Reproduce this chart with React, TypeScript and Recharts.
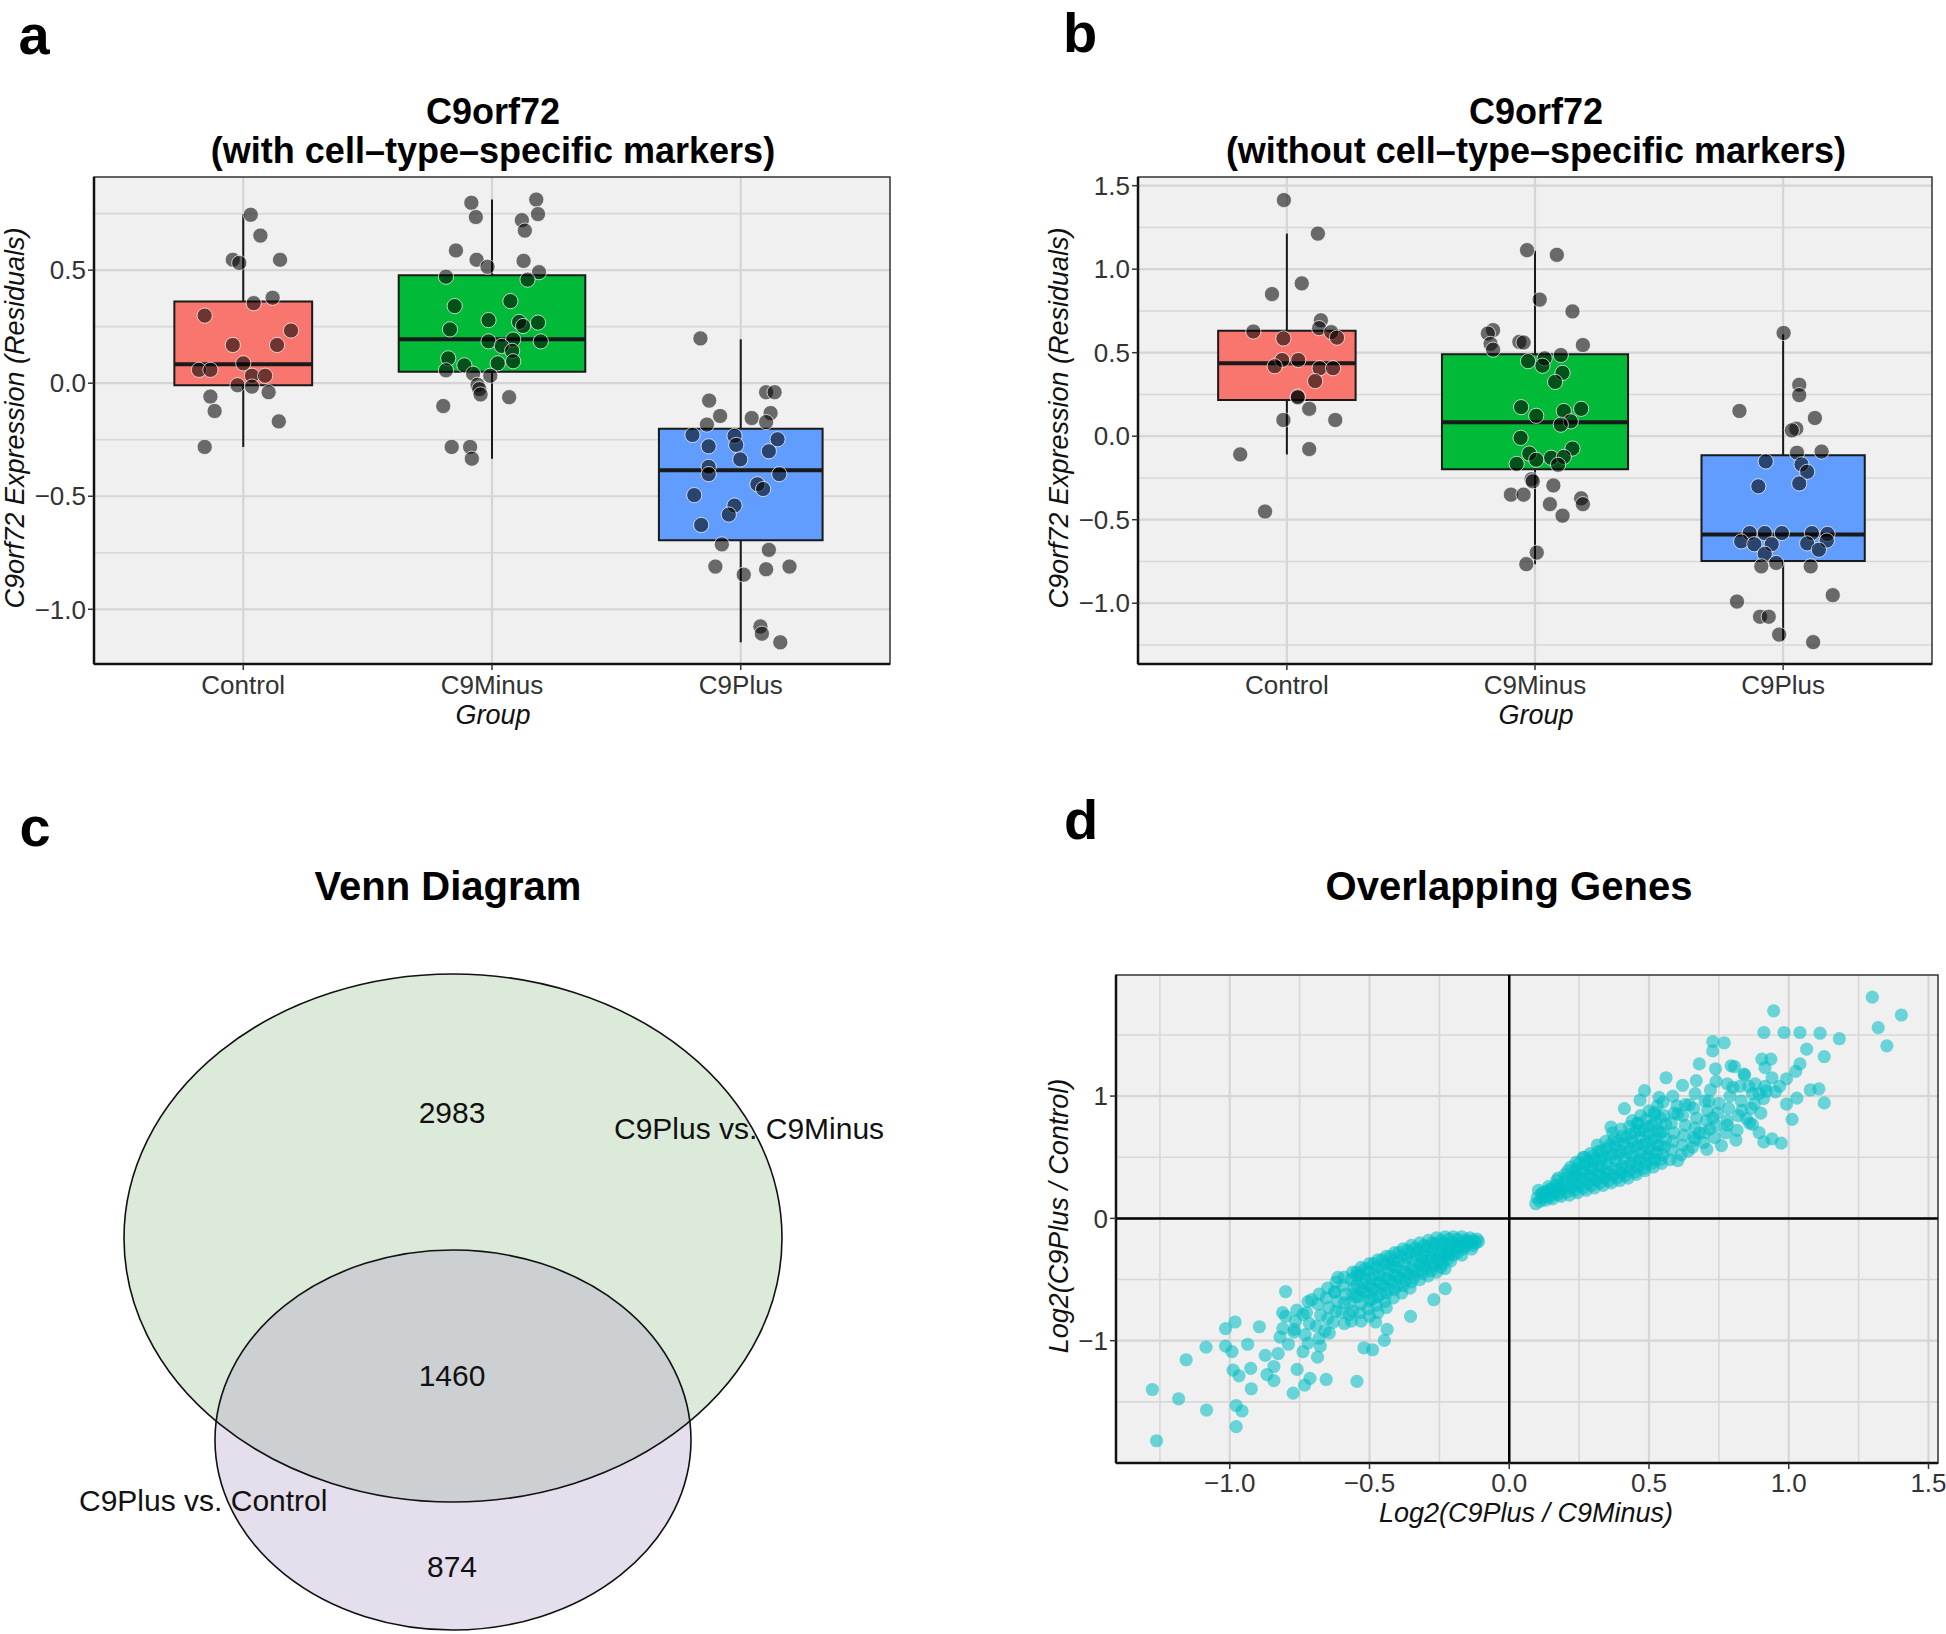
import React from "react";
import {
  ScatterChart,
  Scatter,
  XAxis,
  YAxis,
  CartesianGrid,
  ReferenceArea,
  ReferenceLine,
} from "recharts";

const FONT = "'Liberation Sans', Arial, Helvetica, sans-serif";

// ---- panels a / b : boxplots ----
const groups = ["Control", "C9Minus", "C9Plus"];
const boxColors = ["#F8766D", "#00BA38", "#619CFF"];
// varwidth boxes (relative to category spacing)
const boxWidths = [0.554, 0.75, 0.658];

// with cell-type-specific markers
const withQ1 = [-0.009, 0.051, -0.695];
const withMedian = [0.084, 0.194, -0.385];
const withQ3 = [0.361, 0.477, -0.202];
const withLower = [-0.282, -0.334, -1.146];
const withUpper = [0.748, 0.812, 0.194];

// [jitter, residual]
const withControl: [number, number][] = [
  [0.03, 0.745], [0.069, 0.653], [-0.042, 0.546], [-0.016, 0.532], [0.148, 0.546],
  [0.118, 0.378], [0.042, 0.354], [-0.155, 0.299], [0.192, 0.233], [-0.042, 0.169],
  [0.136, 0.169], [0.0, 0.088], [-0.178, 0.059], [-0.132, 0.059], [0.035, 0.033],
  [0.088, 0.033], [-0.023, -0.009], [0.035, -0.015], [0.102, -0.04], [-0.132, -0.059],
  [-0.115, -0.123], [0.143, -0.169], [-0.155, -0.282],
];
const withC9Minus: [number, number][] = [
  [-0.083, 0.798], [0.178, 0.812], [0.185, 0.748], [-0.065, 0.735], [0.12, 0.721],
  [0.132, 0.675], [-0.145, 0.587], [-0.062, 0.546], [0.127, 0.541], [-0.018, 0.515],
  [0.189, 0.491], [-0.185, 0.471], [0.143, 0.458], [0.074, 0.363], [-0.15, 0.341],
  [-0.014, 0.279], [0.109, 0.271], [0.185, 0.268], [0.125, 0.253], [-0.169, 0.238],
  [-0.014, 0.185], [0.085, 0.193], [0.196, 0.185], [0.039, 0.165], [0.081, 0.143],
  [-0.176, 0.11], [0.085, 0.097], [-0.111, 0.079], [0.023, 0.088], [-0.185, 0.057],
  [-0.076, 0.042], [-0.007, 0.033], [-0.058, -0.007], [-0.051, -0.026], [-0.046, -0.05],
  [0.069, -0.062], [-0.196, -0.101], [-0.162, -0.282], [-0.088, -0.282], [-0.081, -0.334],
];
const withC9Plus: [number, number][] = [
  [-0.162, 0.198], [0.102, -0.04], [0.136, -0.04], [-0.127, -0.077], [0.12, -0.132],
  [-0.083, -0.145], [0.044, -0.154], [0.102, -0.172], [-0.136, -0.183], [-0.194, -0.229],
  [-0.025, -0.233], [0.148, -0.248], [-0.129, -0.279], [-0.018, -0.273], [0.113, -0.301],
  [-0.002, -0.337], [-0.129, -0.37], [-0.129, -0.402], [0.155, -0.402], [0.067, -0.447],
  [0.09, -0.468], [-0.187, -0.495], [-0.025, -0.541], [-0.048, -0.581], [-0.159, -0.627],
  [-0.076, -0.713], [0.113, -0.737], [-0.102, -0.811], [0.102, -0.823], [0.196, -0.811],
  [0.012, -0.847], [0.079, -1.076], [0.085, -1.108], [0.159, -1.146],
];

// without cell-type-specific markers
const withoutQ1 = [0.216, -0.198, -0.747];
const withoutMedian = [0.437, 0.084, -0.588];
const withoutQ3 = [0.632, 0.491, -0.114];
const withoutLower = [-0.109, -0.766, -1.225];
const withoutUpper = [1.213, 1.111, 0.61];

const withoutControl: [number, number][] = [
  [-0.012, 1.414], [0.125, 1.213], [0.06, 0.915], [-0.06, 0.851], [0.137, 0.694],
  [-0.135, 0.627], [0.13, 0.647], [0.179, 0.623], [-0.014, 0.585], [0.202, 0.59],
  [-0.019, 0.456], [0.046, 0.456], [-0.049, 0.419], [0.132, 0.407], [0.186, 0.407],
  [0.114, 0.33], [0.044, 0.238], [0.044, 0.233], [0.09, 0.164], [-0.014, 0.097],
  [0.195, 0.097], [0.09, -0.077], [-0.188, -0.109], [-0.088, -0.451],
];
const withoutC9Minus: [number, number][] = [
  [-0.032, 1.114], [0.088, 1.086], [0.019, 0.818], [0.151, 0.747], [-0.169, 0.635],
  [-0.19, 0.615], [-0.063, 0.565], [-0.046, 0.561], [0.193, 0.546], [-0.179, 0.553],
  [-0.169, 0.518], [0.104, 0.486], [0.039, 0.466], [-0.028, 0.449], [0.03, 0.422],
  [0.111, 0.379], [0.081, 0.325], [-0.056, 0.174], [0.186, 0.164], [0.116, 0.151],
  [0.005, 0.122], [0.144, 0.089], [0.104, 0.069], [-0.058, -0.01], [0.151, -0.074],
  [-0.023, -0.104], [0.065, -0.129], [0.005, -0.141], [0.116, -0.124], [-0.074, -0.166],
  [0.093, -0.171], [-0.014, -0.258], [-0.009, -0.27], [0.074, -0.295], [-0.097, -0.35],
  [-0.046, -0.35], [0.186, -0.372], [0.193, -0.407], [0.06, -0.407], [0.111, -0.476],
  [0.007, -0.697], [-0.035, -0.766],
];
const withoutC9Plus: [number, number][] = [
  [0.002, 0.618], [0.065, 0.308], [0.065, 0.246], [-0.176, 0.151], [0.128, 0.109],
  [0.053, 0.045], [0.035, 0.035], [0.056, -0.099], [0.155, -0.092], [-0.07, -0.151],
  [0.074, -0.169], [0.097, -0.213], [0.065, -0.283], [-0.1, -0.3], [-0.135, -0.58],
  [-0.074, -0.58], [-0.005, -0.58], [0.116, -0.58], [0.179, -0.585], [-0.169, -0.63],
  [-0.116, -0.647], [-0.046, -0.647], [0.176, -0.625], [0.097, -0.642], [0.144, -0.68],
  [-0.074, -0.704], [-0.028, -0.759], [-0.088, -0.779], [0.111, -0.779], [0.2, -0.952],
  [-0.186, -0.99], [-0.093, -1.081], [-0.058, -1.081], [-0.016, -1.188], [0.121, -1.233],
];

// ---- panel c : venn ----
const vennCounts = [2983, 1460, 874];
const vennSetNames = ["C9Plus vs. C9Minus", "C9Plus vs. Control"];

// ---- panel d : log2 fold changes of overlapping genes [C9Plus/C9Minus, C9Plus/Control] ----
const upperCloud: [number, number][] = [
  [1.299, 1.809], [0.946, 1.697], [1.403, 1.663], [1.32, 1.56], [0.911, 1.52], [0.983, 1.52],
  [1.04, 1.52], [1.112, 1.514], [1.181, 1.469], [1.351, 1.411], [0.728, 1.445], [0.769, 1.436],
  [0.728, 1.369], [1.064, 1.384], [1.127, 1.323], [0.68, 1.263], [0.904, 1.302], [0.936, 1.302],
  [0.794, 1.247], [0.806, 1.241], [1.04, 1.263], [0.915, 1.232], [1.025, 1.202], [0.738, 1.223],
  [0.842, 1.171], [0.561, 1.15], [0.992, 1.141], [0.94, 1.15], [0.669, 1.126], [0.62, 1.087],
  [0.857, 1.08], [0.8, 1.071], [0.915, 1.08], [0.967, 1.08], [1.077, 1.05], [1.108, 1.059],
  [0.484, 1.044], [0.894, 1.02], [0.952, 1.035], [1.029, 0.983], [0.992, 0.935], [1.127, 0.944],
  [0.468, 0.968], [0.536, 0.989], [0.412, 0.898], [0.877, 0.935], [0.832, 0.883], [1.012, 0.81],
  [0.728, 0.822], [0.849, 0.816], [0.87, 0.768], [0.894, 0.701], [0.94, 0.65], [0.973, 0.616],
  [0.911, 0.625], [0.811, 0.64], [0.759, 0.595], [0.707, 0.564], [0.603, 0.473], [0.364, 0.747],
  [0.457, 0.777], [0.52, 0.868], [0.665, 0.64], [0.717, 0.731], [0.78, 0.762], [0.603, 0.853],
  [0.644, 0.929], [0.714, 0.959],
  [0.095, 0.12], [0.1, 0.17], [0.11, 0.14], [0.115, 0.2], [0.105, 0.23],
  [0.13, 0.15], [0.135, 0.22], [0.14, 0.26], [0.125, 0.18], [0.145, 0.19],
  [0.155, 0.16], [0.16, 0.21], [0.165, 0.27], [0.17, 0.31], [0.15, 0.24], [0.175, 0.23],
  [0.185, 0.18], [0.19, 0.24], [0.195, 0.3], [0.2, 0.36], [0.18, 0.21], [0.205, 0.27],
  [0.215, 0.19], [0.22, 0.25], [0.225, 0.31], [0.23, 0.37], [0.22, 0.42], [0.235, 0.28],
  [0.245, 0.21], [0.25, 0.27], [0.255, 0.33], [0.26, 0.39], [0.25, 0.45], [0.265, 0.5], [0.24, 0.35],
  [0.275, 0.23], [0.28, 0.29], [0.285, 0.35], [0.29, 0.41], [0.28, 0.47], [0.29, 0.53], [0.27, 0.38],
  [0.305, 0.25], [0.31, 0.31], [0.315, 0.37], [0.32, 0.43], [0.31, 0.49], [0.32, 0.55], [0.315, 0.6], [0.3, 0.4],
  [0.335, 0.27], [0.34, 0.33], [0.345, 0.39], [0.35, 0.45], [0.34, 0.51], [0.35, 0.57], [0.345, 0.63], [0.33, 0.42],
  [0.365, 0.29], [0.37, 0.35], [0.375, 0.41], [0.38, 0.47], [0.37, 0.53], [0.38, 0.59], [0.375, 0.65], [0.37, 0.7],
  [0.395, 0.31], [0.4, 0.37], [0.405, 0.43], [0.41, 0.49], [0.4, 0.55], [0.41, 0.61], [0.405, 0.67], [0.4, 0.73],
  [0.425, 0.33], [0.43, 0.39], [0.435, 0.45], [0.44, 0.51], [0.43, 0.57], [0.44, 0.63], [0.435, 0.69], [0.43, 0.75], [0.44, 0.8],
  [0.455, 0.36], [0.46, 0.42], [0.465, 0.48], [0.47, 0.54], [0.46, 0.6], [0.47, 0.66], [0.465, 0.72], [0.46, 0.78], [0.47, 0.84],
  [0.485, 0.39], [0.49, 0.45], [0.495, 0.51], [0.5, 0.57], [0.49, 0.63], [0.5, 0.69], [0.495, 0.75], [0.49, 0.81], [0.5, 0.88],
  [0.515, 0.42], [0.52, 0.48], [0.525, 0.54], [0.53, 0.6], [0.52, 0.66], [0.53, 0.72], [0.525, 0.78], [0.52, 0.85], [0.53, 0.92],
  [0.545, 0.45], [0.55, 0.52], [0.555, 0.58], [0.56, 0.65], [0.55, 0.71], [0.56, 0.77], [0.555, 0.84], [0.55, 0.95],
  [0.575, 0.48], [0.58, 0.56], [0.585, 0.63], [0.59, 0.7], [0.58, 0.78], [0.59, 0.86], [0.585, 1.0], [0.6, 0.92],
  [0.615, 0.52], [0.62, 0.6], [0.625, 0.68], [0.63, 0.76], [0.62, 0.84], [0.63, 0.93], [0.64, 0.55],
  [0.655, 0.58], [0.66, 0.66], [0.665, 0.74], [0.67, 0.82], [0.66, 0.9], [0.665, 1.02], [0.68, 0.7],
  [0.695, 0.62], [0.7, 0.7], [0.705, 0.8], [0.71, 0.88], [0.7, 0.96], [0.72, 1.05],
  [0.735, 0.66], [0.74, 0.76], [0.745, 0.86], [0.75, 0.94], [0.74, 1.12],
  [0.775, 0.7], [0.78, 0.8], [0.785, 0.9], [0.79, 1.0], [0.78, 1.1],
  [0.815, 0.72], [0.82, 0.84], [0.83, 0.96], [0.825, 1.08], [0.84, 1.18],
  [0.86, 0.78], [0.865, 0.9], [0.87, 1.02], [0.88, 1.1],
  [0.9, 0.86], [0.91, 0.98], [0.92, 1.04],
  // densest core
  [0.12, 0.165], [0.12, 0.21], [0.145, 0.175], [0.145, 0.235], [0.175, 0.195], [0.175, 0.26], [0.175, 0.33],
  [0.205, 0.215], [0.205, 0.33], [0.21, 0.39], [0.235, 0.23], [0.235, 0.34], [0.24, 0.4], [0.24, 0.46],
  [0.265, 0.25], [0.265, 0.32], [0.27, 0.44], [0.27, 0.5], [0.295, 0.27], [0.295, 0.33], [0.3, 0.46], [0.3, 0.51],
  [0.325, 0.29], [0.325, 0.35], [0.33, 0.48], [0.33, 0.55], [0.355, 0.31], [0.355, 0.37], [0.36, 0.5], [0.36, 0.6],
  [0.385, 0.33], [0.39, 0.4], [0.39, 0.52], [0.39, 0.63], [0.415, 0.35], [0.42, 0.42], [0.42, 0.54], [0.42, 0.66],
  [0.45, 0.38], [0.45, 0.47], [0.45, 0.58], [0.45, 0.7], [0.48, 0.41], [0.48, 0.5], [0.48, 0.6], [0.48, 0.72],
  [0.51, 0.45], [0.51, 0.55], [0.51, 0.64], [0.51, 0.76], [0.54, 0.48], [0.54, 0.6], [0.54, 0.7], [0.54, 0.82],
];
const lowerCloud: [number, number][] = [
  [-1.277, -1.399], [-1.262, -1.818], [-1.183, -1.475], [-1.156, -1.156], [-1.083, -1.567],
  [-1.085, -1.053], [-1.015, -0.901], [-0.981, -0.847], [-1.015, -1.044], [-0.992, -1.09],
  [-0.988, -1.241], [-0.967, -1.287], [-0.977, -1.53], [-0.956, -1.575], [-0.977, -1.703],
  [-0.936, -1.029], [-0.923, -1.393], [-0.925, -1.226], [-0.894, -0.886], [-0.867, -1.278],
  [-0.842, -1.326], [-0.842, -1.211], [-0.873, -1.12], [-0.827, -1.105], [-0.8, -0.598],
  [-0.811, -0.771], [-0.773, -1.429], [-0.759, -1.235], [-0.732, -1.363], [-0.713, -1.308],
  [-0.655, -1.317], [-0.545, -1.332], [-0.79, -1.029], [-0.769, -0.907], [-0.738, -1.09],
  [-0.686, -1.135], [-0.676, -1.044], [-0.644, -0.938], [-0.613, -0.483], [-0.624, -0.604],
  [-0.545, -0.467], [-0.52, -1.059], [-0.489, -1.074], [-0.447, -0.998], [-0.437, -0.907],
  [-0.353, -0.801], [-0.707, -0.665], [-0.738, -0.786], [-0.572, -0.786], [-0.478, -0.847],
  [-0.416, -0.392], [-0.229, -0.574], [-0.27, -0.665],
  [-0.115, -0.17], [-0.12, -0.2], [-0.11, -0.19],
  [-0.14, -0.16], [-0.145, -0.21], [-0.135, -0.25], [-0.15, -0.19],
  [-0.17, -0.15], [-0.175, -0.2], [-0.165, -0.25], [-0.17, -0.3], [-0.18, -0.23],
  [-0.2, -0.15], [-0.205, -0.2], [-0.195, -0.25], [-0.2, -0.3], [-0.21, -0.35], [-0.215, -0.27],
  [-0.23, -0.15], [-0.235, -0.2], [-0.225, -0.26], [-0.23, -0.31], [-0.24, -0.37], [-0.23, -0.41],
  [-0.26, -0.16], [-0.265, -0.21], [-0.255, -0.27], [-0.26, -0.33], [-0.27, -0.39], [-0.26, -0.44], [-0.25, -0.3],
  [-0.29, -0.18], [-0.295, -0.23], [-0.285, -0.29], [-0.29, -0.35], [-0.3, -0.41], [-0.29, -0.47], [-0.28, -0.32],
  [-0.32, -0.2], [-0.325, -0.26], [-0.315, -0.32], [-0.32, -0.38], [-0.33, -0.44], [-0.32, -0.5], [-0.31, -0.35],
  [-0.35, -0.22], [-0.355, -0.28], [-0.345, -0.34], [-0.35, -0.4], [-0.36, -0.46], [-0.35, -0.52], [-0.355, -0.57],
  [-0.38, -0.25], [-0.385, -0.31], [-0.375, -0.37], [-0.38, -0.43], [-0.39, -0.49], [-0.38, -0.55], [-0.385, -0.61],
  [-0.41, -0.28], [-0.415, -0.34], [-0.405, -0.4], [-0.41, -0.46], [-0.42, -0.52], [-0.41, -0.58], [-0.415, -0.65],
  [-0.44, -0.31], [-0.445, -0.37], [-0.435, -0.43], [-0.44, -0.49], [-0.45, -0.55], [-0.44, -0.61], [-0.445, -0.68], [-0.44, -0.73],
  [-0.47, -0.34], [-0.475, -0.4], [-0.465, -0.46], [-0.47, -0.52], [-0.48, -0.58], [-0.47, -0.64], [-0.475, -0.71], [-0.47, -0.77],
  [-0.5, -0.37], [-0.505, -0.43], [-0.495, -0.49], [-0.5, -0.55], [-0.51, -0.61], [-0.5, -0.67], [-0.505, -0.74], [-0.5, -0.8],
  [-0.53, -0.4], [-0.535, -0.46], [-0.525, -0.52], [-0.53, -0.58], [-0.54, -0.64], [-0.53, -0.7], [-0.535, -0.77], [-0.53, -0.84],
  [-0.56, -0.44], [-0.565, -0.5], [-0.555, -0.56], [-0.56, -0.62], [-0.57, -0.69], [-0.56, -0.76], [-0.565, -0.84],
  [-0.59, -0.48], [-0.595, -0.55], [-0.585, -0.62], [-0.59, -0.69], [-0.6, -0.77], [-0.59, -0.86],
  [-0.62, -0.52], [-0.625, -0.6], [-0.615, -0.68], [-0.62, -0.76], [-0.63, -0.85],
  [-0.65, -0.57], [-0.655, -0.65], [-0.645, -0.73], [-0.65, -0.82], [-0.66, -0.92],
  [-0.68, -0.62], [-0.685, -0.7], [-0.675, -0.79], [-0.69, -0.88], [-0.68, -0.98],
  [-0.72, -0.68], [-0.725, -0.77], [-0.715, -0.86], [-0.73, -0.95], [-0.72, -1.02],
  [-0.76, -0.75], [-0.765, -0.84], [-0.77, -0.93],
  [-0.8, -0.8], [-0.81, -0.9], [-0.82, -0.97],
  // densest core
  [-0.13, -0.18], [-0.13, -0.22], [-0.155, -0.175], [-0.16, -0.23], [-0.185, -0.17], [-0.19, -0.225], [-0.185, -0.28],
  [-0.215, -0.17], [-0.22, -0.23], [-0.215, -0.29], [-0.22, -0.33], [-0.245, -0.18], [-0.245, -0.24], [-0.25, -0.35], [-0.245, -0.4],
  [-0.275, -0.2], [-0.275, -0.26], [-0.275, -0.37], [-0.28, -0.43], [-0.305, -0.22], [-0.305, -0.28], [-0.305, -0.38], [-0.31, -0.45],
  [-0.335, -0.24], [-0.335, -0.3], [-0.34, -0.42], [-0.34, -0.48], [-0.365, -0.26], [-0.365, -0.32], [-0.37, -0.44], [-0.37, -0.51],
  [-0.395, -0.28], [-0.395, -0.35], [-0.4, -0.47], [-0.4, -0.55], [-0.425, -0.31], [-0.425, -0.38], [-0.43, -0.5], [-0.43, -0.58],
  [-0.455, -0.34], [-0.455, -0.42], [-0.46, -0.53], [-0.46, -0.62], [-0.485, -0.37], [-0.485, -0.46], [-0.49, -0.57], [-0.49, -0.66],
  [-0.515, -0.41], [-0.515, -0.5], [-0.52, -0.6], [-0.545, -0.44], [-0.545, -0.54], [-0.55, -0.64],
];

const fmt = (digits: number) => (v: number) =>
  (v < 0 ? "\u2212" : "") + Math.abs(v).toFixed(digits);

const tickStyle = { fontSize: 26, fill: "#333", fontFamily: FONT };

const Label = ({ x, y, children, style }: any) => (
  <div
    style={{
      position: "absolute",
      left: x,
      top: y,
      transform: "translate(-50%, -50%)",
      whiteSpace: "nowrap",
      lineHeight: 1,
      ...style,
    }}
  >
    {children}
  </div>
);

const VLabel = ({ x, y, children }: any) => (
  <div
    style={{
      position: "absolute",
      left: x,
      top: y,
      transform: "translate(-50%, -50%) rotate(-90deg)",
      whiteSpace: "nowrap",
      lineHeight: 1,
      fontSize: 27,
      fontStyle: "italic",
      color: "#111",
    }}
  >
    {children}
  </div>
);

function BoxPanel({ left, yAxisWidth, rightMargin, q1, med, q3, lo, hi, points, yDomain, yTicks, yMinor }: any) {
  const data = points.flatMap((pts: [number, number][], g: number) =>
    pts.map(([j, v]) => ({ x: g + 1 + j, y: v }))
  );
  return (
    <div style={{ position: "absolute", left, top: 150 }}>
      <ScatterChart
        width={900}
        height={600}
        margin={{ top: 27, right: rightMargin, bottom: 46, left: 0 }}
      >
        <CartesianGrid fill="#F0F0F0" stroke="#D8D8D8" strokeWidth={1.6} vertical={false} horizontalValues={yMinor} />
        <CartesianGrid stroke="#D5D5D5" strokeWidth={2.2} horizontalValues={yTicks} verticalValues={[1, 2, 3]} />
        <XAxis
          type="number"
          dataKey="x"
          domain={[0.4, 3.6]}
          ticks={[1, 2, 3]}
          interval={0}
          allowDataOverflow
          tickFormatter={(v: number) => groups[v - 1]}
          height={40}
          tickSize={6}
          tickMargin={6}
          tick={tickStyle}
          axisLine={{ stroke: "#111", strokeWidth: 2.5 }}
          tickLine={{ stroke: "#333", strokeWidth: 1.5 }}
        />
        <YAxis
          type="number"
          dataKey="y"
          domain={yDomain}
          ticks={yTicks}
          interval={0}
          allowDataOverflow
          tickFormatter={fmt(1)}
          width={yAxisWidth}
          tickSize={6}
          tick={tickStyle}
          axisLine={{ stroke: "#111", strokeWidth: 2.5 }}
          tickLine={{ stroke: "#333", strokeWidth: 1.5 }}
        />
        {groups.map((g, i) => (
          <ReferenceLine
            key={"hi" + g}
            segment={[{ x: i + 1, y: q3[i] }, { x: i + 1, y: hi[i] }]}
            stroke="#1a1a1a"
            strokeWidth={2}
          />
        ))}
        {groups.map((g, i) => (
          <ReferenceLine
            key={"lo" + g}
            segment={[{ x: i + 1, y: q1[i] }, { x: i + 1, y: lo[i] }]}
            stroke="#1a1a1a"
            strokeWidth={2}
          />
        ))}
        {groups.map((g, i) => (
          <ReferenceArea
            key={"box" + g}
            x1={i + 1 - boxWidths[i] / 2}
            x2={i + 1 + boxWidths[i] / 2}
            y1={q1[i]}
            y2={q3[i]}
            fill={boxColors[i]}
            fillOpacity={1}
            stroke="#1a1a1a"
            strokeWidth={2}
          />
        ))}
        {groups.map((g, i) => (
          <ReferenceLine
            key={"med" + g}
            segment={[
              { x: i + 1 - boxWidths[i] / 2, y: med[i] },
              { x: i + 1 + boxWidths[i] / 2, y: med[i] },
            ]}
            stroke="#1a1a1a"
            strokeWidth={4}
          />
        ))}
        <Scatter
          data={data}
          isAnimationActive={false}
          shape={(p: any) => (
            <circle cx={p.cx} cy={p.cy} r={7.6} fill="#000" fillOpacity={0.56} stroke="#fff" strokeWidth={1} strokeOpacity={0.7} />
          )}
        />
        <ReferenceArea x1={0.4} x2={3.6} y1={yDomain[0]} y2={yDomain[1]} fill="none" stroke="#333" strokeWidth={1.5} />
      </ScatterChart>
    </div>
  );
}

function VennPanel() {
  // layout in pixel units of the 900x694 drawing area
  const big = { x: 393, y: 298, rx: 329, ry: 264 };
  const small = { x: 393, y: 500, rx: 238, ry: 190 };
  const texts = [
    { x: 392, y: 172, text: String(vennCounts[0]), anchor: "middle" },
    { x: 392, y: 435, text: String(vennCounts[1]), anchor: "middle" },
    { x: 392, y: 626, text: String(vennCounts[2]), anchor: "middle" },
    { x: 554, y: 188, text: vennSetNames[0], anchor: "start" },
    { x: 19, y: 560, text: vennSetNames[1], anchor: "start" },
  ];
  return (
    <div style={{ position: "absolute", left: 60, top: 940 }}>
      <ScatterChart width={900} height={694} margin={{ top: 0, right: 0, bottom: 0, left: 0 }}>
        <XAxis type="number" dataKey="x" domain={[0, 900]} hide allowDataOverflow />
        <YAxis type="number" dataKey="y" domain={[0, 694]} reversed hide allowDataOverflow />
        <Scatter
          data={[big]}
          isAnimationActive={false}
          shape={(p: any) => <ellipse cx={p.cx} cy={p.cy} rx={p.payload.rx} ry={p.payload.ry} fill="#DCEBD9" />}
        />
        <Scatter
          data={[small]}
          isAnimationActive={false}
          shape={(p: any) => (
            <g>
              <defs>
                <clipPath id="vennSmallClip">
                  <ellipse cx={p.cx} cy={p.cy} rx={p.payload.rx} ry={p.payload.ry} />
                </clipPath>
              </defs>
              <ellipse cx={p.cx} cy={p.cy} rx={p.payload.rx} ry={p.payload.ry} fill="#E5DEEC" />
            </g>
          )}
        />
        <Scatter
          data={[big]}
          isAnimationActive={false}
          shape={(p: any) => (
            <ellipse cx={p.cx} cy={p.cy} rx={p.payload.rx} ry={p.payload.ry} fill="#CDD0D3" clipPath="url(#vennSmallClip)" />
          )}
        />
        <Scatter
          data={texts}
          isAnimationActive={false}
          shape={(p: any) => (
            <text x={p.cx} y={p.cy} textAnchor={p.payload.anchor} dominantBaseline="central" fontSize={30} fill="#111" fontFamily={FONT}>
              {p.payload.text}
            </text>
          )}
        />
        <Scatter
          data={[big, small]}
          isAnimationActive={false}
          shape={(p: any) => (
            <ellipse cx={p.cx} cy={p.cy} rx={p.payload.rx} ry={p.payload.ry} fill="none" stroke="#111" strokeWidth={1.6} />
          )}
        />
      </ScatterChart>
    </div>
  );
}

function OverlapPanel() {
  const data = [...upperCloud, ...lowerCloud].map(([x, y]) => ({ x, y }));
  const xDomain = [-1.407, 1.534];
  const yDomain = [-2.0, 1.99];
  return (
    <div style={{ position: "absolute", left: 1000, top: 940 }}>
      <ScatterChart width={946} height={600} margin={{ top: 35, right: 8, bottom: 37, left: 0 }}>
        <CartesianGrid
          fill="#F0F0F0"
          stroke="#D8D8D8"
          strokeWidth={1.6}
          horizontalValues={[-1.5, -0.5, 0.5, 1.5]}
          verticalValues={[-1.25, -0.75, -0.25, 0.25, 0.75, 1.25]}
        />
        <CartesianGrid
          stroke="#D5D5D5"
          strokeWidth={2.2}
          horizontalValues={[-1, 0, 1]}
          verticalValues={[-1, -0.5, 0, 0.5, 1, 1.5]}
        />
        <XAxis
          type="number"
          dataKey="x"
          domain={xDomain}
          ticks={[-1, -0.5, 0, 0.5, 1, 1.5]}
          interval={0}
          allowDataOverflow
          tickFormatter={fmt(1)}
          height={40}
          tickSize={6}
          tickMargin={5}
          tick={tickStyle}
          axisLine={{ stroke: "#111", strokeWidth: 2.5 }}
          tickLine={{ stroke: "#333", strokeWidth: 1.5 }}
        />
        <YAxis
          type="number"
          dataKey="y"
          domain={yDomain}
          ticks={[-1, 0, 1]}
          interval={0}
          allowDataOverflow
          tickFormatter={fmt(0)}
          width={116}
          tickSize={6}
          tick={tickStyle}
          axisLine={{ stroke: "#111", strokeWidth: 2.5 }}
          tickLine={{ stroke: "#333", strokeWidth: 1.5 }}
        />
        <ReferenceLine x={0} stroke="#000" strokeWidth={2.5} />
        <ReferenceLine y={0} stroke="#000" strokeWidth={2.5} />
        <Scatter
          data={data}
          isAnimationActive={false}
          shape={(p: any) => <circle cx={p.cx} cy={p.cy} r={6.6} fill="#00BFC4" fillOpacity={0.56} />}
        />
        <ReferenceArea x1={xDomain[0]} x2={xDomain[1]} y1={yDomain[0]} y2={yDomain[1]} fill="none" stroke="#333" strokeWidth={1.5} />
      </ScatterChart>
    </div>
  );
}

export default function App() {
  const letter = { fontSize: 56, fontWeight: 700, color: "#000" };
  const title = { fontSize: 36, fontWeight: 700, color: "#000" };
  const bigTitle = { fontSize: 40, fontWeight: 700, color: "#000" };
  const axisTitle = { fontSize: 27, fontStyle: "italic", color: "#111" };
  return (
    <div
      style={{
        position: "absolute",
        left: 0,
        top: 0,
        width: 1946,
        height: 1634,
        background: "#fff",
        fontFamily: FONT,
        overflow: "hidden",
      }}
    >
      <Label x={34} y={35} style={letter}>a</Label>
      <Label x={1080} y={33} style={letter}>b</Label>
      <Label x={35} y={827} style={letter}>c</Label>
      <Label x={1081} y={820} style={letter}>d</Label>

      <Label x={493} y={112} style={title}>C9orf72</Label>
      <Label x={493} y={151} style={title}>(with cell–type–specific markers)</Label>
      <Label x={1536} y={112} style={title}>C9orf72</Label>
      <Label x={1536} y={151} style={title}>(without cell–type–specific markers)</Label>

      <BoxPanel
        left={0}
        yAxisWidth={94}
        rightMargin={10}
        q1={withQ1}
        med={withMedian}
        q3={withQ3}
        lo={withLower}
        hi={withUpper}
        points={[withControl, withC9Minus, withC9Plus]}
        yDomain={[-1.242, 0.912]}
        yTicks={[-1, -0.5, 0, 0.5]}
        yMinor={[-0.75, -0.25, 0.25, 0.75]}
      />
      <BoxPanel
        left={1040}
        yAxisWidth={98}
        rightMargin={8}
        q1={withoutQ1}
        med={withoutMedian}
        q3={withoutQ3}
        lo={withoutLower}
        hi={withoutUpper}
        points={[withoutControl, withoutC9Minus, withoutC9Plus]}
        yDomain={[-1.364, 1.552]}
        yTicks={[-1, -0.5, 0, 0.5, 1, 1.5]}
        yMinor={[-1.25, -0.75, -0.25, 0.25, 0.75, 1.25]}
      />
      <Label x={493} y={715} style={axisTitle}>Group</Label>
      <Label x={1536} y={715} style={axisTitle}>Group</Label>
      <VLabel x={15} y={418}>C9orf72 Expression (Residuals)</VLabel>
      <VLabel x={1059} y={418}>C9orf72 Expression (Residuals)</VLabel>

      <Label x={448} y={886} style={bigTitle}>Venn Diagram</Label>
      <VennPanel />

      <Label x={1509} y={886} style={bigTitle}>Overlapping Genes</Label>
      <OverlapPanel />
      <Label x={1526} y={1513} style={axisTitle}>Log2(C9Plus / C9Minus)</Label>
      <VLabel x={1059} y={1216}>Log2(C9Plus / Control)</VLabel>
    </div>
  );
}
